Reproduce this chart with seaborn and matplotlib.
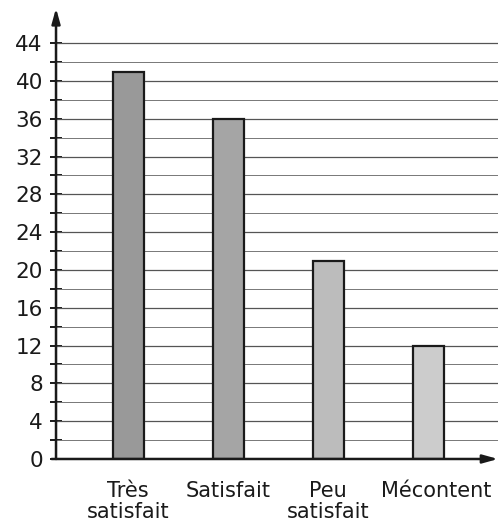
import matplotlib
matplotlib.use("Agg")
import matplotlib.pyplot as plt
import matplotlib.transforms as mtransforms
import seaborn as sns
import pandas as pd
import numpy as np

categories = ["Très\nsatisfait", "Satisfait", "Peu\nsatisfait", "Mécontent"]
values = [41, 36, 21, 12]
bar_colors = ["#999999", "#a5a5a5", "#bcbcbc", "#cccccc"]
y_ticks = list(range(0, 45, 4))
y_minor = list(range(0, 45, 2))

sns.set_style("white")
plt.rcParams["font.family"] = ["DejaVu Sans"]

df = pd.DataFrame({"cat": categories, "val": values})

fig = plt.figure(figsize=(4.98, 5.26), dpi=100)
fig.patch.set_facecolor("white")
ax = fig.add_axes([0.1125, 0.1274, 0.8876, 0.857])

sns.barplot(data=df, x="cat", y="val", hue="cat", palette=bar_colors,
            legend=False, width=0.31, edgecolor="#1a1a1a", linewidth=1.6,
            ax=ax, zorder=3)

ax.set_xlim(-0.72, 3.70)
ax.set_ylim(0, 47.7)

# grid lines every 2 units
for v in y_minor[1:]:
    ax.axhline(v, color="#555555" if v % 4 == 0 else "#777777",
               lw=0.9 if v % 4 == 0 else 0.7, zorder=1)

for s in ax.spines.values():
    s.set_visible(False)

# axes with arrow heads
ax.annotate("", xy=(0, 1.0), xytext=(0, 0), xycoords="axes fraction",
            arrowprops=dict(arrowstyle="-|>,head_length=0.9,head_width=0.25",
                            color="#1a1a1a", lw=1.8, shrinkA=0, shrinkB=0),
            annotation_clip=False, zorder=5)
ax.annotate("", xy=(1.0, 0), xytext=(-0.01, 0), xycoords="axes fraction",
            arrowprops=dict(arrowstyle="-|>,head_length=0.9,head_width=0.25",
                            color="#1a1a1a", lw=1.8, shrinkA=0, shrinkB=0),
            annotation_clip=False, zorder=5)

ax.set_yticks(y_ticks)
ax.set_yticks(y_minor, minor=True)
ax.set_yticklabels([str(t) for t in y_ticks], fontsize=15.5, color="#1a1a1a")
ax.tick_params(axis="y", which="both", left=True, direction="inout",
               length=9, width=1.4, color="#1a1a1a", pad=5)
ax.tick_params(axis="x", bottom=False, pad=12)
ax.set_xticks(range(len(categories)))
ax.set_xticklabels(categories, fontsize=15, color="#1a1a1a", linespacing=1.1)
ax.set_xlabel("")
ax.set_ylabel("")

# last label sits a little to the right in the original
lab = ax.get_xticklabels()[-1]
lab.set_transform(lab.get_transform() +
                  mtransforms.ScaledTranslation(0.08, 0, fig.dpi_scale_trans))

fig.savefig("out.png", dpi=100, facecolor="white")
